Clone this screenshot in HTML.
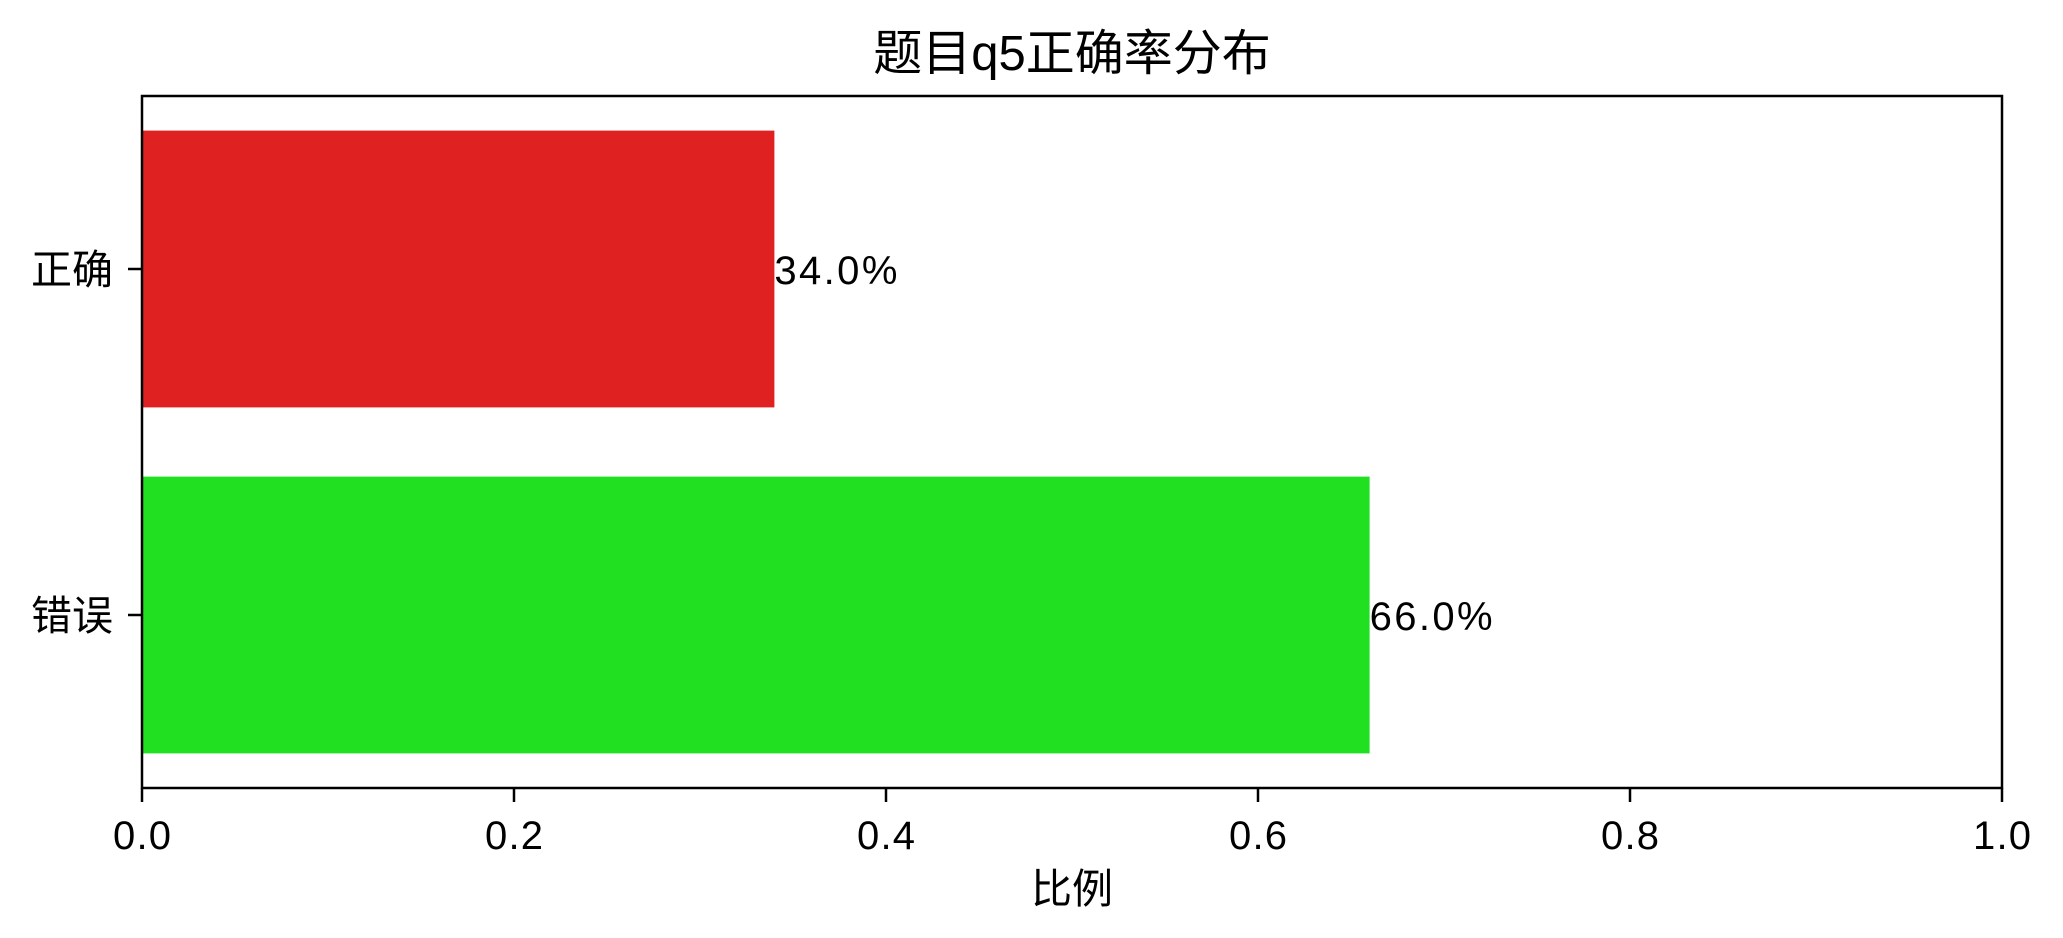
<!DOCTYPE html>
<html><head><meta charset="utf-8">
<style>html,body{margin:0;padding:0;background:#fff;}svg{display:block;}</style>
</head><body>
<svg id="chart" width="2063" height="938" xmlns="http://www.w3.org/2000/svg" font-family="'Liberation Sans','Noto Sans CJK SC',sans-serif">
<rect width="2063" height="938" fill="#fff"/>
<text x="1072" y="70" font-size="49" text-anchor="middle">题目q5正确率分布</text>
<g id="plot"></g>
<text x="1072" y="903" font-size="41" text-anchor="middle">比例</text>
</svg>
<script>
const categories = ["正确", "错误"];
const values = [0.34, 0.66];
const colors = ["#df2121", "#21df21"];
const xTicks = [0, 0.2, 0.4, 0.6, 0.8, 1.0];
const xTickLabels = ["0.0", "0.2", "0.4", "0.6", "0.8", "1.0"];

const L = 142, R = 2002, T = 96, B = 788;
const ns = "http://www.w3.org/2000/svg";
const g = document.getElementById('plot');
const xs = v => L + v * (R - L);
const ys = v => B - (v + 0.5) / 2 * (B - T); // y range -0.5..1.5
function mk(tag, attrs) { const e = document.createElementNS(ns, tag); for (const k in attrs) e.setAttribute(k, attrs[k]); g.appendChild(e); return e; }

categories.forEach((c, i) => {
  const pos = categories.length - 1 - i;
  const y0 = ys(pos + 0.4), y1 = ys(pos - 0.4);
  const bar = mk('rect', { x: xs(0), y: y0, width: xs(values[i]) - xs(0), height: y1 - y0, fill: colors[i] });
  
  
  const lbl = mk('text', { x: xs(values[i]), y: ys(pos) + 15, 'font-size': 40, textLength: 123, lengthAdjust: 'spacing' });
  lbl.textContent = (values[i] * 100).toFixed(1) + '%';
  
  
  const tk = mk('line', { x1: L - 14, x2: L, y1: ys(pos), y2: ys(pos), stroke: '#000', 'stroke-width': 2.5 });
  
  
  const tl = mk('text', { x: L - 29, y: ys(pos) + 15, 'font-size': 41, 'text-anchor': 'end' });
  tl.textContent = c;
  
  
});

xTicks.forEach((v, i) => {
  const tk = mk('line', { x1: xs(v), x2: xs(v), y1: B, y2: B + 14, stroke: '#000', 'stroke-width': 2.5 });
  
  
  const tl = mk('text', { x: xs(v) - 29, y: B + 61, 'font-size': 40, textLength: 58, lengthAdjust: 'spacing' });
  tl.textContent = xTickLabels[i];
  
  
});

const frame = mk('rect', { x: L, y: T, width: R - L, height: B - T, fill: 'none', stroke: '#000', 'stroke-width': 2.5 });


</script>
</body></html>
